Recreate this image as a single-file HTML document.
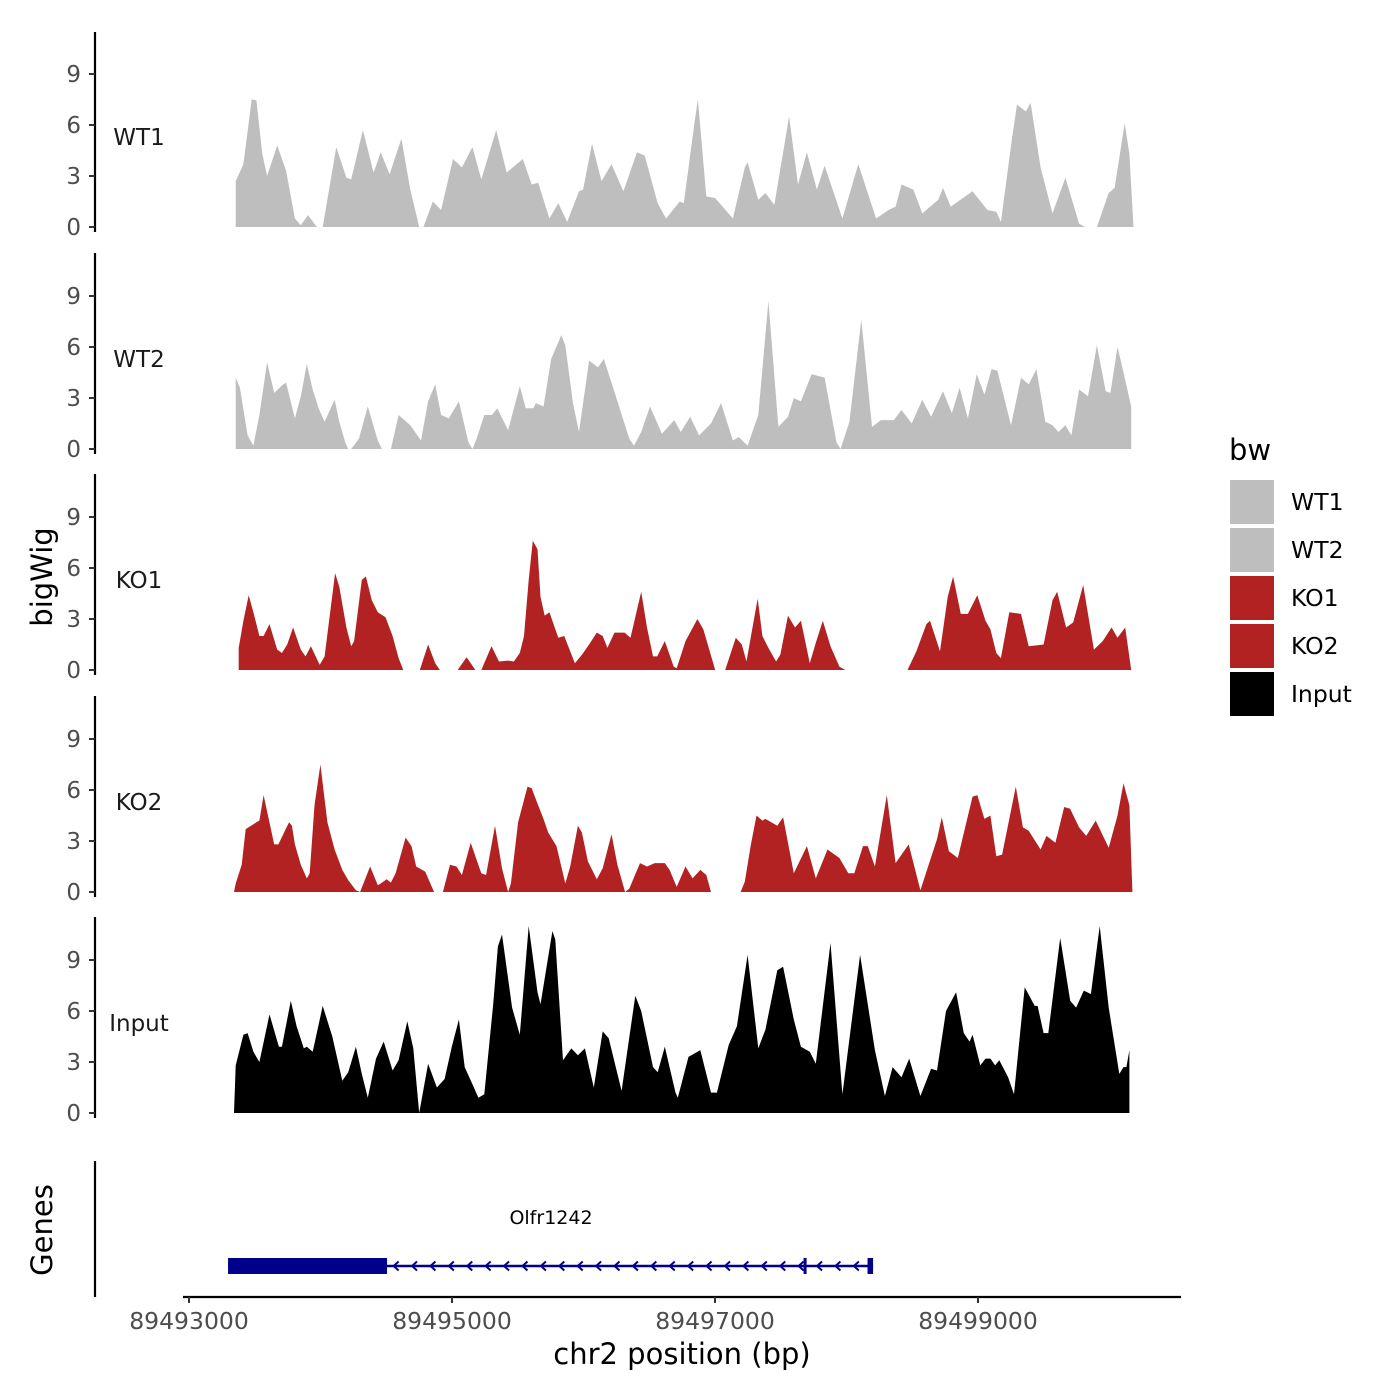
<!DOCTYPE html>
<html><head><meta charset="utf-8"><style>
body{margin:0;background:#fff;}
svg{display:block;font-family:"DejaVu Sans","Liberation Sans",sans-serif;}
</style></head><body>
<svg id="chart" width="1400" height="1400" viewBox="0 0 1400 1400" xmlns="http://www.w3.org/2000/svg">
<rect width="1400" height="1400" fill="#fff"/>
<g id="tracks"></g>
<g id="gene"></g>
<g id="xaxis"></g>
<text x="42" y="577" transform="rotate(-90 42 577)" text-anchor="middle" dominant-baseline="central" font-size="29" fill="#000">bigWig</text>
<text x="42" y="1230" transform="rotate(-90 42 1230)" text-anchor="middle" dominant-baseline="central" font-size="29" fill="#000">Genes</text>
<text x="682" y="1364" text-anchor="middle" font-size="29" fill="#000">chr2 position (bp)</text>
<g id="legend">
<text x="1229" y="460" font-size="29" fill="#000">bw</text>
</g>
</svg>
<script>
const chromStart = 89493000;
const trackNames = ["WT1","WT2","KO1","KO2","Input"];
const trackColors = ["#bebebe","#bebebe","#b22222","#b22222","#000000"];
const yTicks = [0,3,6,9];
const xTicks = [89493000,89495000,89497000,89499000];

const wt1Pos = [349,349,408,472,508,553,590,667,735,803,848,903,971,1016,1120,1197,1234,1324,1406,1460,1528,1619,1687,1755,1787,1860,1923,2014,2082,2163,2231,2345,2426,2549,2617,2667,2753,2821,2889,2980,3011,3079,3152,3229,3320,3424,3483,3583,3647,3751,3783,3864,3891,3955,4023,4159,4250,4272,4354,4408,4476,4590,4658,4726,4803,4862,4998,5120,5256,5352,5406,5451,5542,5610,5733,5769,5828,5995,6109,6177,6213,6299,6336,6404,6440,6517,6608,6707,6812,6857,6948,7039,7084,7161,7197,7229];
const wt1Val = [0,2.7,3.7,7.5,7.45,4.3,3.0,4.8,3.3,0.5,0.1,0.7,0,0,4.7,2.9,2.8,5.7,3.2,4.4,3.1,5.2,2.2,0,0,1.5,1.0,4.0,3.5,4.7,2.8,5.7,3.2,4.0,2.5,2.6,0.5,1.4,0.3,2.1,2.2,4.9,2.7,3.7,2.1,4.4,4.2,1.4,0.5,1.5,1.4,6.1,7.5,1.8,1.7,0.5,3.5,3.8,1.6,2.0,1.3,6.5,2.5,4.4,2.2,3.6,0.5,3.7,0.5,1.0,1.2,2.5,2.2,0.8,1.6,2.3,1.2,2.1,1.0,0.9,0.3,5.3,7.2,6.8,7.3,3.5,0.8,2.9,0.2,0,0,2.0,2.3,6.1,4.3,0];

const wt2Pos = [349,349,381,440,485,531,590,644,712,735,803,848,894,939,984,1030,1107,1143,1188,1211,1234,1293,1361,1438,1470,1538,1597,1687,1769,1823,1878,1923,1982,2059,2132,2163,2195,2254,2313,2354,2436,2526,2572,2631,2649,2708,2767,2844,2875,2934,2980,3057,3125,3170,3229,3365,3401,3456,3524,3615,3710,3760,3832,3900,3991,4068,4159,4204,4272,4354,4431,4508,4581,4626,4680,4762,4862,4953,4984,5052,5143,5225,5293,5392,5451,5529,5610,5678,5769,5837,5896,5960,6027,6086,6141,6186,6290,6367,6426,6485,6553,6608,6653,6707,6753,6812,6880,6948,7016,7052,7106,7152,7211,7211];
const wt2Val = [0,4.2,3.6,0.8,0.2,2.0,5.1,3.3,3.8,3.9,1.8,3.1,5.0,3.5,2.4,1.6,2.9,1.6,0.4,0,0,0.6,2.5,0.5,0,0,2.0,1.4,0.5,2.8,3.8,2.0,1.8,2.8,0.4,0,0.6,2.0,2.0,2.4,1.1,3.7,2.4,2.4,2.7,2.5,5.3,6.7,6.1,2.7,1.0,5.2,4.8,5.3,3.9,0.6,0.2,1.0,2.5,0.9,1.7,1.0,1.9,0.8,1.5,2.7,0.5,0.7,0.2,2.0,8.7,1.3,1.9,3.0,2.8,4.4,4.2,0.4,0,1.6,7.6,1.3,1.7,1.7,2.3,1.5,2.9,1.9,3.4,2.1,3.6,1.8,4.4,3.2,4.7,4.6,1.4,4.2,3.8,4.7,1.6,1.4,1.0,1.4,0.8,3.5,3.1,6.1,3.4,3.3,6.0,4.5,2.5,0];

const ko1Pos = [372,372,408,449,485,531,563,608,667,703,744,789,848,884,925,962,993,1030,1111,1143,1197,1234,1256,1315,1347,1392,1438,1497,1551,1597,1633,1760,1823,1878,1914,2050,2118,2186,2231,2309,2367,2436,2481,2526,2558,2594,2626,2662,2685,2717,2753,2821,2866,2948,3002,3057,3116,3161,3197,3252,3329,3374,3456,3501,3547,3579,3637,3705,3728,3796,3887,3932,4023,4100,4181,4227,4263,4309,4349,4385,4431,4490,4522,4581,4635,4680,4748,4794,4848,4907,4975,5020,5497,5565,5642,5669,5746,5805,5846,5905,5960,6032,6095,6132,6177,6213,6277,6367,6426,6540,6608,6644,6712,6767,6843,6925,6993,7061,7106,7165,7211];
const ko1Val = [0,1.3,2.9,4.4,3.4,2.0,2.0,2.7,1.2,1.0,1.5,2.5,1.2,0.8,1.4,0.8,0.3,0.8,5.7,4.9,2.5,1.4,1.7,5.3,5.5,4.1,3.4,3.1,2.0,0.7,0,0,1.5,0.4,0,0,0.75,0,0,1.4,0.5,0.55,0.5,1.0,2.0,5.3,7.6,7.1,4.3,3.2,3.4,1.9,2.0,0.4,0.9,1.5,2.2,2.0,1.3,2.2,2.2,1.9,4.6,2.5,0.8,0.8,1.7,0.2,0.1,1.7,3.0,2.4,0,0,1.9,1.5,0.5,2.5,4.2,2.0,1.3,0.5,0.9,3.2,2.5,2.9,0.4,1.6,2.9,1.4,0.2,0,0,1.1,2.7,2.9,1.1,4.3,5.5,3.3,3.3,4.4,2.9,2.4,1.0,0.7,3.4,3.3,1.4,1.5,4.1,4.6,2.5,2.8,5.0,1.2,1.7,2.5,1.9,2.5,0];

const ko2Pos = [336,349,395,426,508,531,563,644,676,726,758,780,803,848,894,916,953,998,1052,1107,1166,1211,1270,1302,1379,1438,1460,1506,1538,1574,1651,1696,1732,1801,1869,1937,1991,2041,2082,2150,2231,2268,2336,2390,2436,2458,2513,2585,2617,2662,2708,2744,2807,2875,2912,2971,3002,3048,3116,3161,3229,3274,3333,3365,3447,3501,3560,3637,3674,3728,3796,3850,3909,3955,3991,4218,4250,4295,4340,4385,4408,4499,4544,4626,4726,4794,4884,4975,5043,5089,5156,5193,5247,5338,5406,5506,5596,5655,5723,5760,5814,5882,5995,6032,6086,6132,6177,6222,6327,6381,6426,6517,6562,6630,6698,6743,6812,6866,6939,7039,7106,7152,7197,7220];
const ko2Val = [0,0.5,1.6,3.7,4.1,4.2,5.7,2.8,2.8,3.6,4.1,3.9,2.8,1.6,0.8,1.1,5.1,7.5,4.1,2.5,1.3,0.7,0.1,0,1.5,0.4,0.5,0.75,0.55,1.1,3.2,2.7,1.5,1.2,0,0,1.6,1.5,1.0,2.9,1.1,1.0,3.9,1.4,0,0.5,4.1,6.2,6.1,5.2,4.3,3.5,2.7,0.5,1.5,3.9,3.5,1.8,0.75,1.4,3.4,1.6,0,0.2,1.7,1.5,1.7,1.7,1.3,0.3,1.5,0.8,1.3,1.0,0,0,0.6,2.7,4.5,4.2,4.3,3.9,4.4,1.1,2.7,0.8,2.5,2.0,1.1,1.1,2.7,2.7,1.5,5.7,1.7,2.8,0.1,1.5,3.1,4.4,2.4,2.0,5.6,5.7,4.3,4.5,2.1,2.2,6.2,3.8,3.6,2.5,3.3,2.9,5.0,4.9,3.8,3.3,4.2,2.6,4.5,6.4,5.1,0];

const inputPos = [336,349,408,440,485,531,608,680,703,771,816,871,894,939,1016,1089,1166,1211,1270,1315,1361,1424,1483,1551,1597,1664,1710,1755,1823,1891,1950,2005,2059,2104,2163,2209,2254,2322,2358,2390,2467,2526,2594,2662,2685,2776,2798,2857,2921,2971,3025,3093,3161,3207,3306,3411,3456,3547,3583,3637,3719,3737,3819,3909,3991,4036,4127,4190,4272,4354,4408,4499,4544,4626,4680,4748,4794,4907,4998,5134,5247,5324,5383,5451,5510,5596,5678,5723,5792,5869,5928,5973,5996,6055,6095,6132,6168,6200,6268,6313,6395,6472,6494,6540,6576,6667,6744,6789,6848,6902,6970,7039,7120,7152,7174,7197,7197];
const inputVal = [0,2.8,4.6,4.7,3.6,3.0,5.8,3.9,3.9,6.6,5.1,3.8,3.9,3.6,6.3,4.5,1.9,2.4,3.9,2.3,0.9,3.2,4.2,2.5,3.1,5.4,3.8,0,2.9,1.5,2.0,3.9,5.5,2.7,1.7,0.9,1.1,6.4,9.8,10.5,6.2,4.6,11.0,7.1,6.4,10.7,10.2,3.1,3.8,3.4,3.8,1.5,4.8,4.4,1.3,6.9,6.0,2.7,2.4,3.9,1.2,0.9,3.3,3.7,1.2,1.2,4.0,5.1,9.3,3.8,4.9,8.4,8.6,5.5,3.9,3.6,2.9,10.0,1.1,9.3,3.7,1.0,2.7,2.1,3.2,1.0,2.6,2.5,6.0,7.1,4.7,4.2,4.6,2.8,3.2,3.2,2.8,3.1,2.1,1.1,7.4,6.3,6.3,4.7,4.7,10.3,6.6,6.2,7.2,7.0,11.0,6.2,2.3,2.7,2.7,3.7,0];

const seriesPos = [wt1Pos, wt2Pos, ko1Pos, ko2Pos, inputPos];
const seriesVal = [wt1Val, wt2Val, ko1Val, ko2Val, inputVal];

const geneName = "Olfr1242";
const geneStart = 89493297, geneEnd = 89498202;
const thickStart = 89493297, thickEnd = 89494506;
const exonMarks = [89497685];
const geneEndBox = [89498160, 89498202];

const NS = "http://www.w3.org/2000/svg";
const xScale = bp => 189 + (bp - chromStart) * (263 / 2000);
// data positions slightly compressed to match the rendered extent
const dataX = bp => 234 + (bp - chromStart - 336) * 0.1305;
const panelBase = [227, 449, 670, 892, 1113];
const panelTop = [32, 253, 474, 696, 917];
const unitPx = 17;
function mk(tag, attrs, parent){ const e=document.createElementNS(NS,tag); for(const k in attrs) e.setAttribute(k,attrs[k]); parent.appendChild(e); return e; }

const tracks = document.getElementById('tracks');
for (let p=0;p<trackNames.length;p++){
  const g = mk('g',{},tracks);
  
  
  const base = panelBase[p];
  const yS = v => base - v*unitPx;
  const ax = mk('line',{x1:95,x2:95,y1:panelTop[p],y2:base+5,stroke:'#000','stroke-width':2.2},g);
  
  
  for (const t of yTicks){
    const tk = mk('line',{x1:89,x2:95,y1:yS(t),y2:yS(t),stroke:'#333','stroke-width':2},g);
    
    
    const tl = mk('text',{x:81,y:yS(t)+8,'text-anchor':'end','font-size':23,fill:'#4d4d4d'},g);
    tl.textContent = t;
    
    
  }
  const lab = mk('text',{x:139,y:yS(5.3)+8,'text-anchor':'middle','font-size':23,fill:'#1a1a1a'},g);
  lab.textContent = trackNames[p];
  
  
  const pos = seriesPos[p], val = seriesVal[p];
  let d = 'M' + dataX(chromStart+pos[0]).toFixed(1) + ',' + base;
  for (let i=0;i<pos.length;i++) d += 'L' + dataX(chromStart+pos[i]).toFixed(1) + ',' + yS(val[i]).toFixed(1);
  d += 'L' + dataX(chromStart+pos[pos.length-1]).toFixed(1) + ',' + base + 'Z';
  const area = mk('path',{d:d,fill:trackColors[p]},g);
  
  
}

// gene track
const gg = document.getElementById('gene');
const gAx = mk('line',{x1:95,x2:95,y1:1161,y2:1297,stroke:'#000','stroke-width':2.2},gg);


const gy = 1266;
const gline = mk('line',{x1:xScale(geneStart),x2:xScale(geneEnd),y1:gy,y2:gy,stroke:'#00008b','stroke-width':2.5},gg);


const thick = mk('rect',{x:xScale(thickStart),y:gy-8,width:xScale(thickEnd)-xScale(thickStart),height:16,fill:'#00008b'},gg);


const endBox = mk('rect',{x:xScale(geneEndBox[0]),y:gy-8,width:xScale(geneEndBox[1])-xScale(geneEndBox[0]),height:16,fill:'#00008b'},gg);


for (const e of exonMarks){
  const m = mk('rect',{x:xScale(e)-1.5,y:gy-8,width:3,height:16,fill:'#00008b'},gg);
  
  
}
for (let bp = thickEnd + 50; bp < geneEndBox[0]-60; bp += 140){
  const ax0 = xScale(bp);
  const ar = mk('polyline',{points:`${ax0+5},${gy-4.5} ${ax0},${gy} ${ax0+5},${gy+4.5}`,fill:'none',stroke:'#00008b','stroke-width':2},gg);
  
  
}
const gname = mk('text',{x:551,y:1224,'text-anchor':'middle','font-size':19,fill:'#000'},gg);
gname.textContent = geneName;



// x axis
const xa = document.getElementById('xaxis');
const xl = mk('line',{x1:183,x2:1181,y1:1297,y2:1297,stroke:'#000','stroke-width':2.2},xa);


for (const t of xTicks){
  const x = xScale(t);
  const tk = mk('line',{x1:x,x2:x,y1:1297,y2:1303,stroke:'#333','stroke-width':2},xa);
  
  
  const tl = mk('text',{x:x,y:1329,'text-anchor':'middle','font-size':23.5,fill:'#4d4d4d'},xa);
  tl.textContent = t;
  
  
}

// legend
const lg = document.getElementById('legend');
for (let i=0;i<trackNames.length;i++){
  const y = 480 + i*48;
  const r = mk('rect',{x:1230,y:y,width:44,height:44,fill:trackColors[i]},lg);
  
  
  const t = mk('text',{x:1291,y:y+30,'font-size':23.5,fill:'#000'},lg);
  t.textContent = trackNames[i];
  
  
}
</script>
</body></html>
